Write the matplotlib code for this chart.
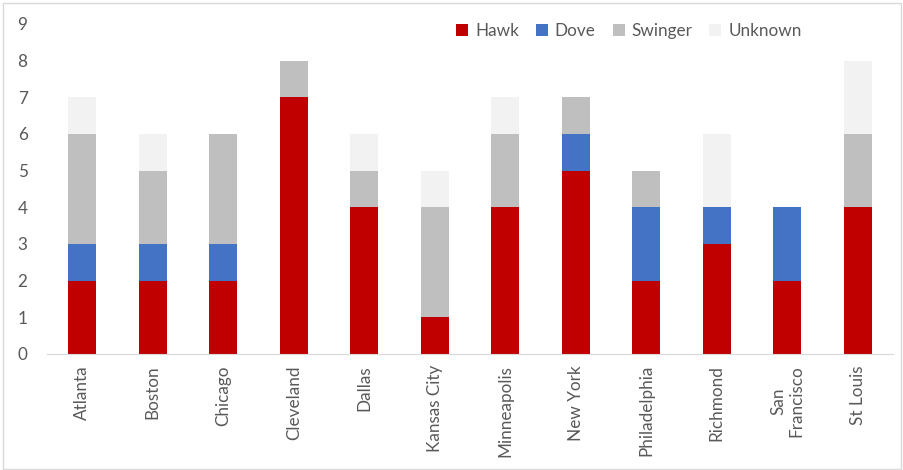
import matplotlib as mpl
mpl.use('Agg')
import matplotlib.pyplot as plt
import numpy as np
from matplotlib.patches import Rectangle

plt.rcParams['font.family'] = ['Lato', 'DejaVu Sans']

cities = ['Atlanta', 'Boston', 'Chicago', 'Cleveland', 'Dallas', 'Kansas City',
          'Minneapolis', 'New York', 'Philadelphia', 'Richmond', 'San\nFrancisco', 'St Louis']
hawk = [2, 2, 2, 7, 4, 1, 4, 5, 2, 3, 2, 4]
dove = [1, 1, 1, 0, 0, 0, 0, 1, 2, 1, 2, 0]
swinger = [3, 2, 3, 1, 1, 3, 2, 1, 1, 0, 0, 2]
unknown = [1, 1, 0, 0, 1, 1, 1, 0, 0, 2, 0, 2]

series = [('Hawk', hawk, '#c00000'), ('Dove', dove, '#4472c4'),
          ('Swinger', swinger, '#bfbfbf'), ('Unknown', unknown, '#f2f2f2')]
txt = '#595959'

fig = plt.figure(figsize=(9.04, 4.70), dpi=100)
ax = fig.add_axes([0.052, 0.247, 0.936, 0.702])

x = np.arange(len(cities))
bottom = np.zeros(len(cities))
for name, vals, c in series:
    ax.bar(x, vals, width=0.4, bottom=bottom, color=c, label=name)
    bottom += np.array(vals)

ax.set_xlim(-0.5, len(cities) - 0.5)
ax.set_ylim(0, 9)
ax.set_yticks(range(10))
ax.set_xticks(x)
ax.set_xticklabels(cities, rotation=90, ha='center', va='top', multialignment='center')
ax.tick_params(axis='both', length=0, labelsize=12.3, colors=txt)
ax.tick_params(axis='x', pad=8)
ax.tick_params(axis='y', pad=14)
for s in ['top', 'right', 'left']:
    ax.spines[s].set_visible(False)
ax.spines['bottom'].set_color('#d9d9d9')

ax.legend(loc='upper right', bbox_to_anchor=(0.91, 1.05), ncol=4, frameon=False,
          fontsize=12.3, labelcolor=txt, handlelength=0.7, handleheight=0.7,
          handletextpad=0.4, columnspacing=1.0)

fig.patches.append(Rectangle((0.003, 0.003), 0.994, 0.99, transform=fig.transFigure,
                             fill=False, edgecolor='#d9d9d9', linewidth=1))

fig.savefig('out.png', dpi=100)
